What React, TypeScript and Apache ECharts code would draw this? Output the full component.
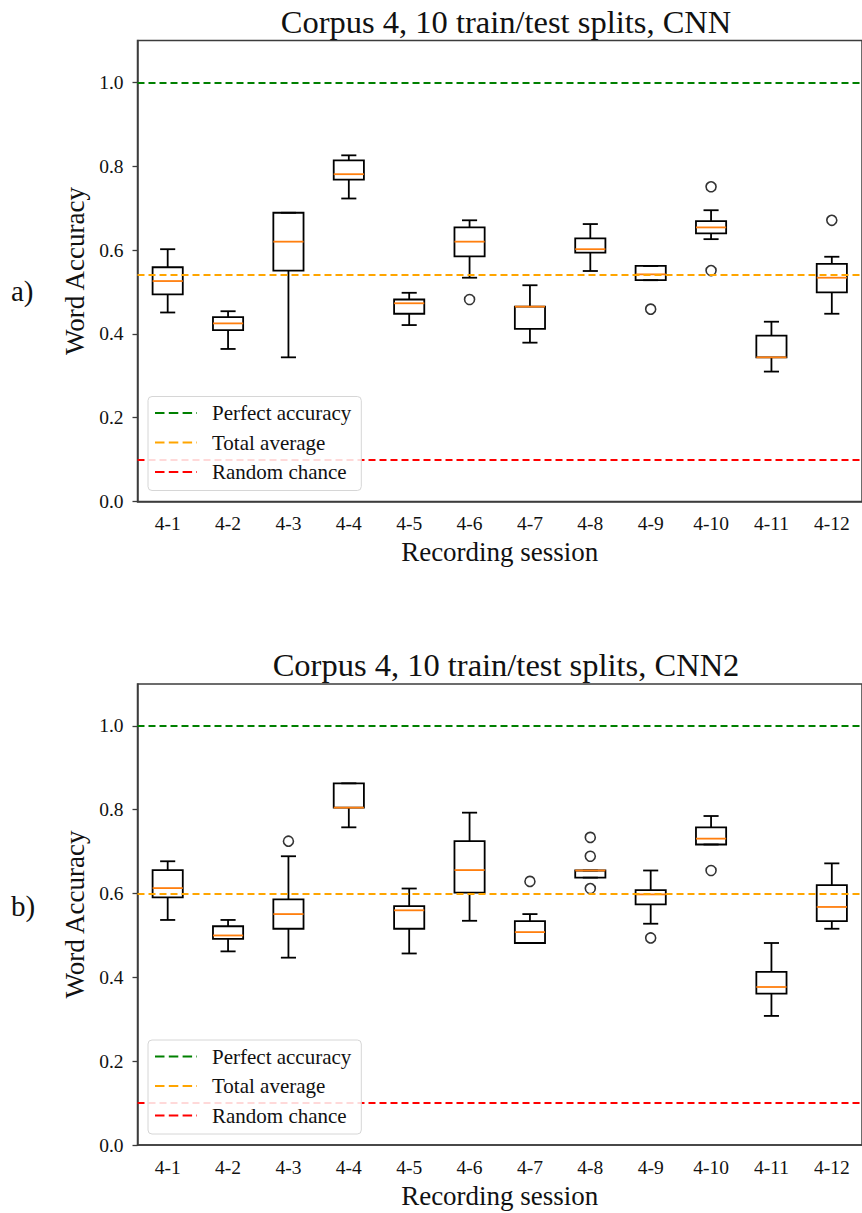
import React, { useEffect, useRef } from "react";
import * as echarts from "echarts";

const categories = ["4-1", "4-2", "4-3", "4-4", "4-5", "4-6", "4-7", "4-8", "4-9", "4-10", "4-11", "4-12"];
const yTicks = [0, 0.2, 0.4, 0.6, 0.8, 1.0];

// [lower whisker, Q1, median, Q3, upper whisker]
const boxesCNN = [
  [0.451, 0.494, 0.526, 0.559, 0.602],
  [0.364, 0.409, 0.425, 0.44, 0.454],
  [0.344, 0.551, 0.62, 0.689, 0.689],
  [0.723, 0.768, 0.781, 0.814, 0.826],
  [0.421, 0.448, 0.473, 0.482, 0.498],
  [0.534, 0.585, 0.62, 0.654, 0.671],
  [0.379, 0.412, 0.465, 0.465, 0.516],
  [0.55, 0.594, 0.602, 0.628, 0.662],
  [0.528, 0.528, 0.542, 0.562, 0.562],
  [0.626, 0.64, 0.654, 0.669, 0.695],
  [0.31, 0.344, 0.344, 0.396, 0.429],
  [0.448, 0.499, 0.534, 0.567, 0.584],
];
const outliersCNN = [
  ["4-6", 0.482],
  ["4-9", 0.459],
  ["4-10", 0.751],
  ["4-10", 0.551],
  ["4-12", 0.671],
];
const averageCNN = 0.544;

const boxesCNN2 = [
  [0.537, 0.591, 0.613, 0.656, 0.677],
  [0.462, 0.492, 0.5, 0.522, 0.537],
  [0.447, 0.516, 0.551, 0.586, 0.689],
  [0.758, 0.805, 0.805, 0.863, 0.863],
  [0.457, 0.516, 0.56, 0.57, 0.612],
  [0.535, 0.602, 0.656, 0.725, 0.793],
  [0.482, 0.482, 0.508, 0.534, 0.551],
  [0.638, 0.638, 0.655, 0.655, 0.655],
  [0.528, 0.574, 0.598, 0.608, 0.655],
  [0.717, 0.717, 0.731, 0.758, 0.785],
  [0.308, 0.361, 0.377, 0.413, 0.482],
  [0.516, 0.534, 0.568, 0.62, 0.672],
];
const outliersCNN2 = [
  ["4-3", 0.725],
  ["4-7", 0.629],
  ["4-8", 0.734],
  ["4-8", 0.689],
  ["4-8", 0.612],
  ["4-9", 0.494],
  ["4-10", 0.655],
];
const averageCNN2 = 0.598;

const perfectAccuracy = 1.0;
const randomChance = 0.1;

const titles = ["Corpus 4, 10 train/test splits, CNN", "Corpus 4, 10 train/test splits, CNN2"];
const panelLabels = ["a)", "b)"];
const refNames = ["Perfect accuracy", "Total average", "Random chance"];
const refColors = ["#008000", "#ffa500", "#ff0000"];

const FONT = "Liberation Serif";
const SPINE = "#3c3c3c";
const DASH = [7, 4];
const ICON =
  "path://M0,0h9.5v2h-9.5z M13.8,0h9.5v2h-9.5z M27.6,0h9.5v2h-9.5z M41.4,0h0.6v2h-0.6z";

const renderBox = (params: any, api: any) => {
  const idx = api.value(0);
  const lowP = api.coord([idx, api.value(1)]);
  const cx = lowP[0];
  const yLow = lowP[1];
  const yQ1 = api.coord([idx, api.value(2)])[1];
  const yMed = api.coord([idx, api.value(3)])[1];
  const yQ3 = api.coord([idx, api.value(4)])[1];
  const yHigh = api.coord([idx, api.value(5)])[1];
  const band = api.size([1, 0])[0];
  const hw = band * 0.25;
  const cw = band * 0.125;
  const lw = 1.8;
  const ln = (x1: number, y1: number, x2: number, y2: number, stroke: string) => ({
    type: "line",
    shape: { x1, y1, x2, y2 },
    style: { stroke, lineWidth: lw },
  });
  return {
    type: "group",
    children: [
      ln(cx, yQ1, cx, yLow, "#000"),
      ln(cx, yQ3, cx, yHigh, "#000"),
      ln(cx - cw, yLow, cx + cw, yLow, "#000"),
      ln(cx - cw, yHigh, cx + cw, yHigh, "#000"),
      {
        type: "rect",
        shape: { x: cx - hw, y: yQ3, width: 2 * hw, height: yQ1 - yQ3 },
        style: { fill: "none", stroke: "#000", lineWidth: lw },
      },
      ln(cx - hw, yMed, cx + hw, yMed, "#ff7f0e"),
    ],
  };
};

const gridTops = [40.5, 684];
const GRID_LEFT = 137.5;
const GRID_W = 727;
const GRID_H = 461;

export default function App() {
  const ref = useRef<HTMLDivElement>(null);

  useEffect(() => {
    if (!ref.current) return;
    const chart = echarts.init(ref.current, undefined, { renderer: "svg" });

    const panels = [
      { boxes: boxesCNN, outliers: outliersCNN, avg: averageCNN },
      { boxes: boxesCNN2, outliers: outliersCNN2, avg: averageCNN2 },
    ];

    const series: any[] = [];
    panels.forEach((p, k) => {
      const refValues = [perfectAccuracy, p.avg, randomChance];
      series.push({
        type: "custom",
        name: "box" + k,
        xAxisIndex: k,
        yAxisIndex: k,
        renderItem: renderBox,
        encode: { x: 0, y: [1, 2, 3, 4, 5] },
        data: p.boxes.map((b, i) => [i, ...b]),
        z: 2,
        silent: true,
      });
      series.push({
        type: "scatter",
        name: "outliers" + k,
        xAxisIndex: k,
        yAxisIndex: k,
        symbol: "circle",
        symbolSize: 10,
        itemStyle: { color: "rgba(0,0,0,0)", borderColor: "#000", borderWidth: 1.6 },
        data: p.outliers,
        z: 2,
        silent: true,
      });
      refNames.forEach((name, j) => {
        series.push({
          type: "line",
          name,
          xAxisIndex: k,
          yAxisIndex: k,
          color: refColors[j],
          lineStyle: { color: refColors[j] },
          data: [],
          z: 3,
          markLine: {
            silent: true,
            symbol: "none",
            label: { show: false },
            lineStyle: { color: refColors[j], type: DASH, width: 2 },
            data: [{ yAxis: refValues[j] }],
            z: 3,
          },
        });
      });
    });

    const option: any = {
      animation: false,
      backgroundColor: "#ffffff",
      title: titles.map((t, k) => ({
        text: t,
        left: GRID_LEFT + GRID_W / 2,
        textAlign: "center",
        top: gridTops[k] - 40.5,
        textStyle: { fontFamily: FONT, fontSize: 32.5, fontWeight: "normal", color: "#111" },
      })),
      legend: gridTops.map((top) => ({
        orient: "vertical",
        left: 148,
        top: top + 356,
        icon: ICON,
        itemWidth: 42,
        itemHeight: 2,
        itemGap: 8.5,
        padding: [6, 10, 8, 7],
        borderColor: "#d6d6d6",
        borderWidth: 1,
        borderRadius: 4,
        backgroundColor: "rgba(255,255,255,0.85)",
        selectedMode: false,
        textStyle: { fontFamily: FONT, fontSize: 21, color: "#111", padding: [0, 0, 0, 10] },
        data: refNames.map((n, j) => ({ name: n, itemStyle: { color: refColors[j] } })),
      })),
      grid: gridTops.map((top) => ({
        left: GRID_LEFT,
        top,
        width: GRID_W,
        height: GRID_H,
        show: true,
        borderColor: SPINE,
        borderWidth: 1.5,
        backgroundColor: "transparent",
      })),
      xAxis: gridTops.map((_, k) => ({
        type: "category",
        gridIndex: k,
        data: categories,
        boundaryGap: true,
        name: "Recording session",
        nameLocation: "middle",
        nameGap: 37,
        nameTextStyle: { fontFamily: FONT, fontSize: 27, color: "#111" },
        axisLine: { lineStyle: { color: SPINE, width: 1.5 } },
        axisTick: { alignWithLabel: true, length: 5, lineStyle: { color: SPINE, width: 1.3 } },
        axisLabel: { fontFamily: FONT, fontSize: 19.5, color: "#111", margin: 12, interval: 0 },
        splitLine: { show: false },
      })),
      yAxis: gridTops.map((_, k) => ({
        type: "value",
        gridIndex: k,
        min: 0,
        max: 1.1,
        name: "Word Accuracy",
        nameLocation: "middle",
        nameGap: 49,
        nameRotate: 90,
        nameTextStyle: { fontFamily: FONT, fontSize: 27, color: "#111" },
        axisLine: { show: true, lineStyle: { color: SPINE, width: 1.5 } },
        axisTick: { show: true, length: 5, customValues: yTicks, lineStyle: { color: SPINE, width: 1.3 } },
        axisLabel: {
          fontFamily: FONT,
          fontSize: 19.5,
          color: "#111",
          margin: 14,
          customValues: yTicks,
          formatter: (v: number) => v.toFixed(1),
        },
        splitLine: { show: false },
      })),
      graphic: panelLabels.map((t, k) => ({
        type: "text",
        left: 11,
        top: k === 0 ? 276 : 891,
        style: { text: t, font: `29px "${FONT}"`, fill: "#111" },
      })),
      series,
    };

    chart.setOption(option);
    return () => chart.dispose();
  }, []);

  return (
    <div
      ref={ref}
      style={{ position: "absolute", left: 0, top: 0, width: 862, height: 1213, background: "#fff" }}
    />
  );
}
